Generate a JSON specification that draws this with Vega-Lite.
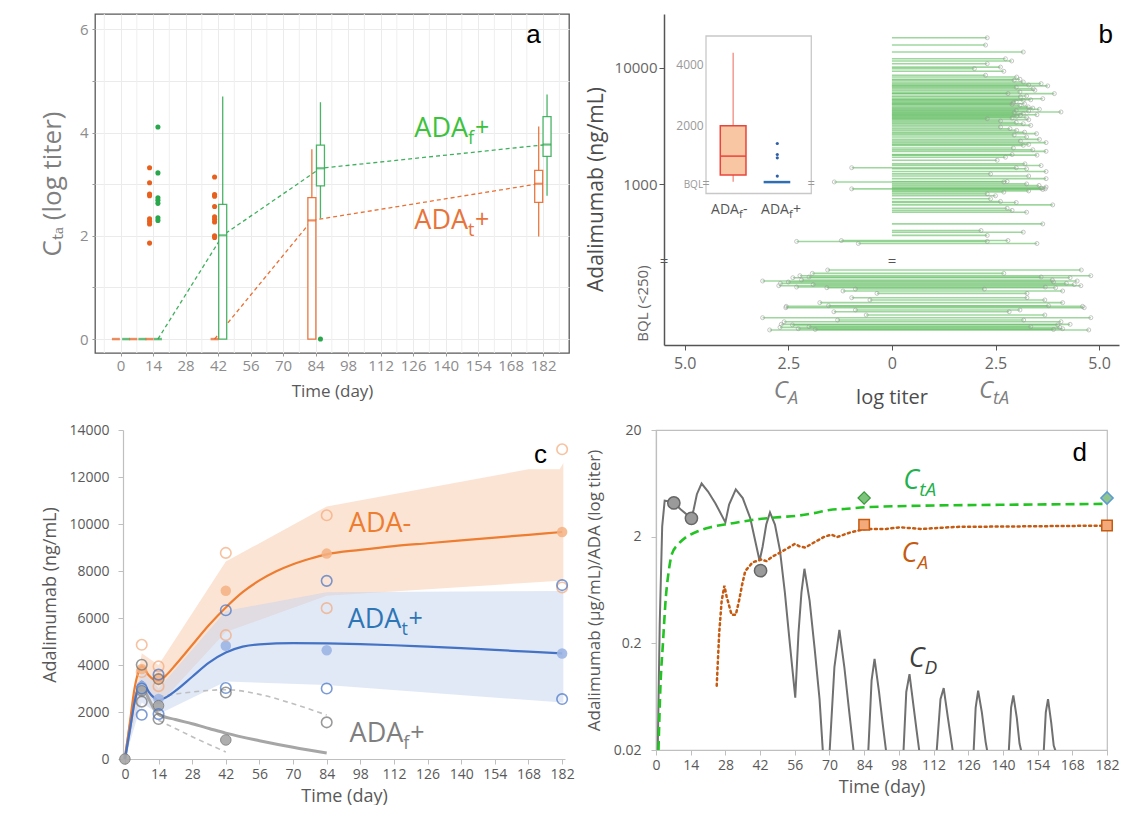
{
"$schema": "https://vega.github.io/schema/vega-lite/v6.json",
"background": "white",
"padding": {"left": 38, "top": 12, "right": 0, "bottom": 0},
"autosize": {"type": "pad"},
"columns": 1,
"spacing": 13,
"resolve": {"scale": {"color": "independent", "fill": "independent", "stroke": "independent"}},
"config": {"font": "Open Sans", "view": {"stroke": null}, "axis": {"titleFontWeight": "normal", "labelFont": "Open Sans", "titleFont": "Open Sans", "grid": false, "labelOverlap": false}, "text": {"font": "Open Sans"}},
"datasets": {
"boxa": [{"da":44,"lo":0,"q1":0,"med":2.01,"q3":2.61,"hi":4.7,"g":"f"},{"da":82.4,"lo":0,"q1":0,"med":2.3,"q3":2.74,"hi":3.68,"g":"t"},{"da":86.1,"lo":2.34,"q1":2.97,"med":3.31,"q3":3.76,"hi":4.59,"g":"f"},{"da":180.1,"lo":1.99,"q1":2.65,"med":3.01,"q3":3.27,"hi":4.12,"g":"t"},{"da":183.7,"lo":2.78,"q1":3.54,"med":3.77,"q3":4.31,"hi":4.74,"g":"f"}],
"ptsa": [{"da":12.5,"ya":3.32,"g":"t"},{"da":12.5,"ya":3.03,"g":"t"},{"da":12.5,"ya":2.81,"g":"t"},{"da":12.5,"ya":2.78,"g":"t"},{"da":12.5,"ya":2.33,"g":"t"},{"da":12.5,"ya":2.28,"g":"t"},{"da":12.5,"ya":2.23,"g":"t"},{"da":12.5,"ya":1.86,"g":"t"},{"da":16.1,"ya":4.11,"g":"f"},{"da":16.1,"ya":3.22,"g":"f"},{"da":16.1,"ya":2.74,"g":"f"},{"da":16.1,"ya":2.69,"g":"f"},{"da":16.1,"ya":2.63,"g":"f"},{"da":16.1,"ya":2.35,"g":"f"},{"da":16.1,"ya":2.3,"g":"f"},{"da":40.5,"ya":3.14,"g":"t"},{"da":40.5,"ya":2.8,"g":"t"},{"da":40.5,"ya":2.77,"g":"t"},{"da":40.5,"ya":2.57,"g":"t"},{"da":40.5,"ya":2.37,"g":"t"},{"da":40.5,"ya":2.32,"g":"t"},{"da":40.5,"ya":2.27,"g":"t"},{"da":40.5,"ya":2.0,"g":"t"},{"da":40.5,"ya":1.97,"g":"t"},{"da":86.1,"ya":0,"g":"f"}],
"topb": [{"cb":18000,"ct":2.3,"ca":0},{"cb":15600,"ct":2.26,"ca":0},{"cb":13600,"ct":3.17,"ca":0},{"cb":11900,"ct":2.74,"ca":0},{"cb":11400,"ct":2.89,"ca":0},{"cb":10800,"ct":2.3,"ca":0},{"cb":10100,"ct":2.62,"ca":0},{"cb":9800,"ct":1.99,"ca":0},{"cb":9300,"ct":2.7,"ca":0},{"cb":8600,"ct":2.26,"ca":0},{"cb":8300,"ct":3.01,"ca":0},{"cb":7950,"ct":3.09,"ca":0},{"cb":7800,"ct":2.95,"ca":0},{"cb":7530,"ct":3.17,"ca":0},{"cb":7290,"ct":3.6,"ca":0},{"cb":7100,"ct":3.3,"ca":0},{"cb":6970,"ct":3.76,"ca":0},{"cb":6800,"ct":3.0,"ca":0},{"cb":6610,"ct":3.41,"ca":0},{"cb":6400,"ct":3.45,"ca":0},{"cb":6190,"ct":3.09,"ca":0},{"cb":6000,"ct":2.8,"ca":0},{"cb":5990,"ct":3.92,"ca":0},{"cb":5720,"ct":3.25,"ca":0},{"cb":5600,"ct":3.1,"ca":0},{"cb":5420,"ct":3.64,"ca":0},{"cb":5300,"ct":3.35,"ca":0},{"cb":5250,"ct":3.17,"ca":0},{"cb":5100,"ct":3.0,"ca":0},{"cb":5010,"ct":2.93,"ca":0},{"cb":4900,"ct":3.2,"ca":0},{"cb":4850,"ct":2.9,"ca":0},{"cb":4760,"ct":3.09,"ca":0},{"cb":4610,"ct":3.29,"ca":0},{"cb":4500,"ct":3.4,"ca":0},{"cb":4400,"ct":3.56,"ca":0},{"cb":4300,"ct":3.0,"ca":0},{"cb":4250,"ct":3.3,"ca":0},{"cb":4170,"ct":4.08,"ca":0},{"cb":4100,"ct":2.95,"ca":0},{"cb":4030,"ct":3.17,"ca":0},{"cb":3950,"ct":3.5,"ca":0},{"cb":3900,"ct":3.1,"ca":0},{"cb":3830,"ct":3.01,"ca":0},{"cb":3750,"ct":3.25,"ca":0},{"cb":3700,"ct":2.9,"ca":0},{"cb":3650,"ct":2.3,"ca":0},{"cb":3580,"ct":3.3,"ca":0},{"cb":3490,"ct":2.62,"ca":0},{"cb":3400,"ct":3.0,"ca":0},{"cb":3310,"ct":3.17,"ca":0},{"cb":3200,"ct":3.35,"ca":0},{"cb":3100,"ct":2.62,"ca":0},{"cb":3000,"ct":2.85,"ca":0},{"cb":2900,"ct":3.01,"ca":0},{"cb":2800,"ct":3.2,"ca":0},{"cb":2720,"ct":3.49,"ca":0},{"cb":2650,"ct":2.95,"ca":0},{"cb":2550,"ct":3.25,"ca":0},{"cb":2430,"ct":3.56,"ca":0},{"cb":2350,"ct":3.1,"ca":0},{"cb":2280,"ct":3.72,"ca":0},{"cb":2200,"ct":3.3,"ca":0},{"cb":2160,"ct":3.17,"ca":0},{"cb":2050,"ct":2.93,"ca":0},{"cb":1980,"ct":3.4,"ca":0},{"cb":1920,"ct":3.72,"ca":0},{"cb":1800,"ct":2.9,"ca":0},{"cb":1780,"ct":3.5,"ca":0},{"cb":1710,"ct":2.74,"ca":0},{"cb":1610,"ct":2.54,"ca":0},{"cb":1500,"ct":3.21,"ca":0},{"cb":1450,"ct":3.6,"ca":0},{"cb":1390,"ct":3.0,"ca":-0.97},{"cb":1360,"ct":3.25,"ca":0},{"cb":1290,"ct":3.72,"ca":0},{"cb":1230,"ct":2.38,"ca":0},{"cb":1180,"ct":3.3,"ca":0},{"cb":1120,"ct":3.72,"ca":0},{"cb":1060,"ct":2.78,"ca":0},{"cb":1050,"ct":2.7,"ca":-1.39},{"cb":1010,"ct":3.25,"ca":0},{"cb":980,"ct":3.55,"ca":0},{"cb":950,"ct":3.72,"ca":0},{"cb":930,"ct":3.6,"ca":0},{"cb":916,"ct":3.7,"ca":-0.97},{"cb":905,"ct":3.64,"ca":0},{"cb":880,"ct":3.3,"ca":0},{"cb":860,"ct":2.7,"ca":0},{"cb":830,"ct":2.3,"ca":0},{"cb":800,"ct":2.5,"ca":0},{"cb":753,"ct":2.38,"ca":0},{"cb":715,"ct":2.62,"ca":0},{"cb":700,"ct":3.0,"ca":0},{"cb":668,"ct":3.88,"ca":0},{"cb":626,"ct":2.78,"ca":0},{"cb":600,"ct":2.9,"ca":0},{"cb":578,"ct":3.25,"ca":0},{"cb":459,"ct":3.64,"ca":0},{"cb":403,"ct":2.15,"ca":0},{"cb":390,"ct":3.17,"ca":0},{"cb":366,"ct":2.3,"ca":0},{"cb":331,"ct":2.8,"ca":-1.22},{"cb":325,"ct":2.3,"ca":-2.3},{"cb":312,"ct":3.5,"ca":-0.81}],
"bqlb": [{"rk":0.107,"ca":-1.55,"ct":4.57},{"rk":0.147,"ca":-1.92,"ct":2.7},{"rk":0.175,"ca":-2.22,"ct":4.8},{"rk":0.19,"ca":-2.0,"ct":3.6},{"rk":0.199,"ca":-2.39,"ct":4.3},{"rk":0.226,"ca":-2.18,"ct":3.87},{"rk":0.238,"ca":-3.12,"ct":4.47},{"rk":0.25,"ca":-2.5,"ct":3.9},{"rk":0.266,"ca":-2.69,"ct":4.21},{"rk":0.28,"ca":-1.9,"ct":4.4},{"rk":0.294,"ca":-2.73,"ct":4.56},{"rk":0.31,"ca":-2.3,"ct":3.7},{"rk":0.318,"ca":-1.57,"ct":3.95},{"rk":0.334,"ca":-0.88,"ct":2.23},{"rk":0.357,"ca":-1.18,"ct":4.12},{"rk":0.385,"ca":-0.36,"ct":3.26},{"rk":0.437,"ca":-0.97,"ct":3.26},{"rk":0.464,"ca":-0.53,"ct":3.69},{"rk":0.496,"ca":-1.74,"ct":4.12},{"rk":0.532,"ca":-1.53,"ct":3.78},{"rk":0.54,"ca":-2.55,"ct":4.6},{"rk":0.556,"ca":-2.56,"ct":4.64},{"rk":0.583,"ca":-0.88,"ct":3.09},{"rk":0.604,"ca":-1.4,"ct":2.83},{"rk":0.643,"ca":-0.62,"ct":3.69},{"rk":0.675,"ca":-3.12,"ct":4.8},{"rk":0.703,"ca":-1.31,"ct":3.18},{"rk":0.723,"ca":-2.6,"ct":4.08},{"rk":0.754,"ca":-2.67,"ct":4.3},{"rk":0.76,"ca":-2.4,"ct":4.0},{"rk":0.782,"ca":-2.0,"ct":3.35},{"rk":0.79,"ca":-2.7,"ct":4.05},{"rk":0.806,"ca":-2.26,"ct":4.12},{"rk":0.815,"ca":-1.85,"ct":3.9},{"rk":0.821,"ca":-2.95,"ct":4.75}]
},
"concat": [
{"hconcat": [
{
"width": 474, "height": 339,
"view": {"stroke": "#595959", "strokeWidth": 1.3},
"layer": [
{"data": {"values": [{"gx":-7},{"gx":7},{"gx":21},{"gx":35},{"gx":49},{"gx":63},{"gx":77},{"gx":91},{"gx":105},{"gx":119},{"gx":133},{"gx":147},{"gx":161},{"gx":175},{"gx":189}]},
 "mark": {"type": "rule", "color": "#efefef", "strokeWidth": 1},
 "encoding": {
  "x": {"field": "gx", "type": "quantitative", "scale": {"domain": [-8.85, 191], "nice": false, "zero": false},
   "axis": {"values": [0,14,28,42,56,70,84,98,112,126,140,154,168,182], "tickCount": 40, "format": "d", "labelOverlap": false, "labelFlush": false, "grid": true, "gridColor": "#ebebeb", "domain": false, "tickColor": "#999999", "tickSize": 3, "labelColor": "#8c8c8c", "labelFontSize": 15, "labelPadding": 2, "title": "Time (day)", "titleFontSize": 17, "titleColor": "#595959", "titlePadding": 10}}}},
{"data": {"values": [{"da":16.1,"ya":0,"g":"f"},{"da":44,"ya":2.01,"g":"f"},{"da":86.1,"ya":3.31,"g":"f"},{"da":183.7,"ya":3.77,"g":"f"},{"da":40.5,"ya":0,"g":"t"},{"da":82.4,"ya":2.3,"g":"t"},{"da":180.1,"ya":3.01,"g":"t"}]},
 "mark": {"type": "line", "strokeDash": [4, 3], "strokeWidth": 1.3, "opacity": 0.9},
 "encoding": {
  "x": {"field": "da", "type": "quantitative"},
  "y": {"field": "ya", "type": "quantitative", "scale": {"domain": [-0.27, 6.3], "nice": false, "zero": false},
   "axis": {"values": [0,1,2,3,4,5,6], "tickCount": 20, "format": "d", "labelExpr": "datum.value % 2 === 0 ? datum.label : ''", "grid": true, "gridColor": "#ebebeb", "domain": false, "tickColor": "#999999", "tickSize": 3, "labelColor": "#8c8c8c", "labelFontSize": 15, "labelPadding": 4, "title": "Cₜₐ (log titer)", "titleFontSize": 26, "titleColor": "#7f7f7f", "titlePadding": 14}},
  "color": {"field": "g", "type": "nominal", "scale": {"domain": ["t","f"], "range": ["#e8601e","#2aa74c"]}, "legend": null}}},
{"data": {"name": "boxa"}, "mark": {"type": "rule", "strokeWidth": 1.3, "opacity": 0.85},
 "encoding": {"x": {"field": "da", "type": "quantitative"}, "y": {"field": "lo", "type": "quantitative"}, "y2": {"field": "hi"}, "color": {"field": "g", "type": "nominal", "legend": null}}},
{"data": {"name": "boxa"}, "mark": {"type": "bar", "size": 8, "fill": "white", "strokeWidth": 1.3, "strokeOpacity": 0.85},
 "encoding": {"x": {"field": "da", "type": "quantitative"}, "y": {"field": "q1", "type": "quantitative"}, "y2": {"field": "q3"}, "stroke": {"field": "g", "type": "nominal", "scale": {"domain": ["t","f"], "range": ["#e8601e","#2aa74c"]}, "legend": null}}},
{"data": {"name": "boxa"}, "mark": {"type": "tick", "orient": "horizontal", "size": 8, "thickness": 2.2},
 "encoding": {"x": {"field": "da", "type": "quantitative"}, "y": {"field": "med", "type": "quantitative"}, "color": {"field": "g", "type": "nominal", "legend": null}}},
{"data": {"values": [{"da":-2,"g":"t"},{"da":2.4,"g":"f"},{"da":5.5,"g":"t"},{"da":9.4,"g":"f"},{"da":12.5,"g":"t"},{"da":16.1,"g":"f"},{"da":40.5,"g":"t"}]},
 "mark": {"type": "tick", "orient": "horizontal", "size": 8, "thickness": 2.5},
 "encoding": {"x": {"field": "da", "type": "quantitative"}, "y": {"datum": 0}, "color": {"field": "g", "type": "nominal", "legend": null}}},
{"data": {"name": "ptsa"}, "mark": {"type": "circle", "size": 26, "opacity": 1},
 "encoding": {"x": {"field": "da", "type": "quantitative"}, "y": {"field": "ya", "type": "quantitative"}, "color": {"field": "g", "type": "nominal", "legend": null}}},
{"data": {"values": [{"da":149.7,"ya":4.07,"g":"f","s":"ADA"},{"da":149.7,"ya":2.29,"g":"t","s":"ADA"}]},
 "mark": {"type": "text", "align": "right", "baseline": "middle", "fontSize": 27},
 "encoding": {"x": {"field": "da", "type": "quantitative"}, "y": {"field": "ya", "type": "quantitative"}, "text": {"field": "s"}, "fill": {"field": "g", "type": "nominal", "scale": {"domain": ["t","f"], "range": ["#e8743b","#3cc23c"]}, "legend": null}}},
{"data": {"values": [{"da":149.7,"ya":4.07,"g":"f","s":"f"},{"da":149.7,"ya":2.29,"g":"t","s":"t"}]},
 "mark": {"type": "text", "align": "left", "baseline": "middle", "fontSize": 18, "dy": 10},
 "encoding": {"x": {"field": "da", "type": "quantitative"}, "y": {"field": "ya", "type": "quantitative"}, "text": {"field": "s"}, "fill": {"field": "g", "type": "nominal", "scale": {"domain": ["t","f"], "range": ["#e8743b","#3cc23c"]}, "legend": null}}},
{"data": {"values": [{"da":149.7,"ya":4.07,"g":"f","s":"+"},{"da":149.7,"ya":2.29,"g":"t","s":"+"}]},
 "mark": {"type": "text", "align": "left", "baseline": "middle", "fontSize": 25, "dx": 7, "dy": -1},
 "encoding": {"x": {"field": "da", "type": "quantitative"}, "y": {"field": "ya", "type": "quantitative"}, "text": {"field": "s"}, "fill": {"field": "g", "type": "nominal", "scale": {"domain": ["t","f"], "range": ["#e8743b","#3cc23c"]}, "legend": null}}},
{"data": {"values": [{"da":177.9,"ya":5.89,"s":"a"}]},
 "mark": {"type": "text", "align": "center", "baseline": "middle", "fontSize": 26, "font": "Liberation Sans", "color": "#000000"},
 "encoding": {"x": {"field": "da", "type": "quantitative"}, "y": {"field": "ya", "type": "quantitative"}, "text": {"field": "s"}}}
]
},
{"vconcat": [
{
"width": 455, "height": 247,
"resolve": {"scale": {"x": "independent", "y": "independent"}, "axis": {"x": "independent", "y": "independent"}},
"layer": [
{"layer": [
 {"data": {"name": "topb"}, "mark": {"type": "rule", "color": "#5dbb5d", "strokeWidth": 1.6, "opacity": 0.6},
  "encoding": {"x": {"field": "ca", "type": "quantitative", "scale": {"domain": [-5.5, 5.48], "nice": false, "zero": false}, "axis": null},
   "x2": {"field": "ct"},
   "y": {"field": "cb", "type": "quantitative", "scale": {"type": "log", "domain": [221, 28770], "nice": false},
    "axis": {"values": [1000, 10000], "format": "d", "title": "Adalimumab (ng/mL)", "titleFontSize": 21, "titleColor": "#4d4d4d", "titlePadding": 8, "titleY": 175, "labelFontSize": 15, "labelColor": "#666666", "domainColor": "#555555", "domainWidth": 1.5, "tickColor": "#555555", "tickSize": 5, "labelPadding": 2}}}},
 {"data": {"name": "topb"}, "mark": {"type": "point", "shape": "circle", "filled": false, "size": 16, "color": "#9a9a9a", "strokeWidth": 0.8},
  "encoding": {"x": {"field": "ct", "type": "quantitative"}, "y": {"field": "cb", "type": "quantitative"}}},
 {"data": {"name": "topb"}, "transform": [{"filter": "datum.ca < 0"}], "mark": {"type": "point", "shape": "circle", "filled": false, "size": 16, "color": "#9a9a9a", "strokeWidth": 0.8},
  "encoding": {"x": {"field": "ca", "type": "quantitative"}, "y": {"field": "cb", "type": "quantitative"}}},
 {"mark": {"type": "rule", "color": "#111111", "strokeWidth": 2, "strokeDash": [5, 1.5]}, "encoding": {"x": {"datum": 0}}},
 {"data": {"values": [{"ca": -5.5, "cb": 222, "s": "="}, {"ca": 0, "cb": 222, "s": "="}]}, "mark": {"type": "text", "align": "center", "baseline": "middle", "fontSize": 15, "color": "#555555"},
  "encoding": {"x": {"field": "ca", "type": "quantitative"}, "y": {"field": "cb", "type": "quantitative"}, "text": {"field": "s"}}},
 {"data": {"values": [{"ca": 5.16, "cb": 18900, "s": "b"}]}, "mark": {"type": "text", "align": "center", "baseline": "middle", "fontSize": 26, "font": "Liberation Sans", "color": "#000000"},
  "encoding": {"x": {"field": "ca", "type": "quantitative"}, "y": {"field": "cb", "type": "quantitative"}, "text": {"field": "s"}}}
]},
{"layer": [
 {"data": {"values": [{"ix":0.923,"ix2":3.237,"iy":-209,"iy2":4937}]}, "mark": {"type": "rect", "fill": "white", "stroke": "#c8c8c8", "strokeWidth": 1.3},
  "encoding": {"x": {"field": "ix", "type": "quantitative", "scale": {"domain": [0, 10], "nice": false, "zero": false}, "axis": null}, "x2": {"field": "ix2"}, "y": {"field": "iy", "type": "quantitative", "scale": {"domain": [-2415, 5655], "nice": false, "zero": false}, "axis": null}, "y2": {"field": "iy2"}}},
 {"data": {"values": [{"ix":1.52,"iy":2000,"iy2":4392},{"ix":1.52,"iy":392,"iy2":173}]}, "mark": {"type": "rule", "color": "#f28b82", "strokeWidth": 1.3},
  "encoding": {"x": {"field": "ix", "type": "quantitative"}, "y": {"field": "iy", "type": "quantitative"}, "y2": {"field": "iy2"}}},
 {"data": {"values": [{"ix":1.237,"ix2":1.802,"iy":392,"iy2":2000}]}, "mark": {"type": "rect", "fill": "#f8c6a3", "stroke": "#e8453c", "strokeWidth": 1.5},
  "encoding": {"x": {"field": "ix", "type": "quantitative"}, "x2": {"field": "ix2"}, "y": {"field": "iy", "type": "quantitative"}, "y2": {"field": "iy2"}}},
 {"data": {"values": [{"ix":1.237,"ix2":1.802,"iy":1012}]}, "mark": {"type": "rule", "color": "#e8453c", "strokeWidth": 1.5},
  "encoding": {"x": {"field": "ix", "type": "quantitative"}, "x2": {"field": "ix2"}, "y": {"field": "iy", "type": "quantitative"}}},
 {"data": {"values": [{"ix":2.19,"ix2":2.775,"iy":163}]}, "mark": {"type": "rule", "color": "#2f6db5", "strokeWidth": 2.5},
  "encoding": {"x": {"field": "ix", "type": "quantitative"}, "x2": {"field": "ix2"}, "y": {"field": "iy", "type": "quantitative"}}},
 {"data": {"values": [{"ix":2.49,"iy":1423},{"ix":2.49,"iy":1064},{"ix":2.49,"iy":956},{"ix":2.49,"iy":359}]}, "mark": {"type": "circle", "size": 10, "color": "#2f5fa8", "opacity": 1},
  "encoding": {"x": {"field": "ix", "type": "quantitative"}, "y": {"field": "iy", "type": "quantitative"}}},
 {"data": {"values": [{"ix":0.873,"iy":4000,"s":"4000"},{"ix":0.873,"iy":2000,"s":"2000"}]}, "mark": {"type": "text", "align": "right", "baseline": "middle", "fontSize": 12, "color": "#999999"},
  "encoding": {"x": {"field": "ix", "type": "quantitative"}, "y": {"field": "iy", "type": "quantitative"}, "text": {"field": "s"}}},
 {"data": {"values": [{"ix":0.86,"iy":65,"s":"BQL"}]}, "mark": {"type": "text", "align": "right", "baseline": "middle", "fontSize": 10, "color": "#999999"},
  "encoding": {"x": {"field": "ix", "type": "quantitative"}, "y": {"field": "iy", "type": "quantitative"}, "text": {"field": "s"}}},
 {"data": {"values": [{"ix":0.923,"iy":100,"s":"="},{"ix":3.237,"iy":100,"s":"="}]}, "mark": {"type": "text", "align": "center", "baseline": "middle", "fontSize": 13, "color": "#999999"},
  "encoding": {"x": {"field": "ix", "type": "quantitative"}, "y": {"field": "iy", "type": "quantitative"}, "text": {"field": "s"}}},
 {"data": {"values": [{"ix":1.648,"iy":-750,"s":"ADA"},{"ix":2.747,"iy":-750,"s":"ADA"}]}, "mark": {"type": "text", "align": "right", "baseline": "middle", "fontSize": 14, "color": "#555555"},
  "encoding": {"x": {"field": "ix", "type": "quantitative"}, "y": {"field": "iy", "type": "quantitative"}, "text": {"field": "s"}}},
 {"data": {"values": [{"ix":1.648,"iy":-750,"s":"f"},{"ix":2.747,"iy":-750,"s":"f"}]}, "mark": {"type": "text", "align": "left", "baseline": "middle", "fontSize": 11, "dy": 5, "color": "#555555"},
  "encoding": {"x": {"field": "ix", "type": "quantitative"}, "y": {"field": "iy", "type": "quantitative"}, "text": {"field": "s"}}},
 {"data": {"values": [{"ix":1.648,"iy":-750,"s":"-"},{"ix":2.747,"iy":-750,"s":"+"}]}, "mark": {"type": "text", "align": "left", "baseline": "middle", "fontSize": 14, "dx": 4, "color": "#555555"},
  "encoding": {"x": {"field": "ix", "type": "quantitative"}, "y": {"field": "iy", "type": "quantitative"}, "text": {"field": "s"}}}
]}
]
},
{
"width": 455, "height": 84,
"layer": [
 {"data": {"name": "bqlb"}, "mark": {"type": "rule", "color": "#5dbb5d", "strokeWidth": 1.6, "opacity": 0.6},
  "encoding": {"x": {"field": "ca", "type": "quantitative", "scale": {"domain": [-5.5, 5.48], "nice": false, "zero": false},
    "axis": {"values": [-5, -2.5, 0, 2.5, 5], "tickCount": 20, "labelExpr": "datum.value === 0 ? '0' : format(abs(datum.value), '.1f')", "title": "log titer", "titleFontSize": 20, "titleColor": "#4d4d4d", "titlePadding": 16, "labelFontSize": 16, "labelColor": "#666666", "domainColor": "#555555", "domainWidth": 1.5, "tickColor": "#555555", "tickSize": 5, "labelPadding": 5, "labelFlush": false}},
   "x2": {"field": "ct"},
   "y": {"field": "rk", "type": "quantitative", "scale": {"domain": [0, 1], "reverse": true, "nice": false, "zero": false},
    "axis": {"title": "BQL (<250)", "labels": false, "ticks": false, "titleFontSize": 15, "titleColor": "#666666", "titlePadding": 14, "domainColor": "#555555", "domainWidth": 1.5}}}},
 {"data": {"name": "bqlb"}, "mark": {"type": "point", "shape": "circle", "filled": false, "size": 16, "color": "#9a9a9a", "strokeWidth": 0.8},
  "encoding": {"x": {"field": "ct", "type": "quantitative"}, "y": {"field": "rk", "type": "quantitative"}}},
 {"data": {"name": "bqlb"}, "mark": {"type": "point", "shape": "circle", "filled": false, "size": 16, "color": "#9a9a9a", "strokeWidth": 0.8},
  "encoding": {"x": {"field": "ca", "type": "quantitative"}, "y": {"field": "rk", "type": "quantitative"}}},
 {"mark": {"type": "rule", "color": "#111111", "strokeWidth": 2, "strokeDash": [5, 1.5]}, "encoding": {"x": {"datum": 0}}},
 {"data": {"values": [{"ca": -2.51, "rk": 1.55}, {"ca": 2.44, "rk": 1.55}]}, "mark": {"type": "text", "text": "C", "align": "right", "baseline": "middle", "fontSize": 24, "fontStyle": "italic", "color": "#808080"},
  "encoding": {"x": {"field": "ca", "type": "quantitative"}, "y": {"field": "rk", "type": "quantitative"}}},
 {"data": {"values": [{"ca": -2.51, "rk": 1.55, "s": "A"}, {"ca": 2.44, "rk": 1.55, "s": "tA"}]}, "mark": {"type": "text", "align": "left", "baseline": "middle", "fontSize": 18, "fontStyle": "italic", "dy": 8, "color": "#808080"},
  "encoding": {"x": {"field": "ca", "type": "quantitative"}, "y": {"field": "rk", "type": "quantitative"}, "text": {"field": "s"}}}
]
}
], "spacing": 0, "bounds": "flush"}
], "spacing": 15, "resolve": {"scale": {"color": "independent", "fill": "independent", "stroke": "independent"}}},
{"hconcat": [
{"width": 1, "height": 1, "data": {"values": [{"v": 0}]}, "mark": {"type": "point", "opacity": 0}, "encoding": {}},
{"hconcat": [
{
"width": 442, "height": 329,
"layer": [
 {"data": {"values": [{"dc":0,"u":0,"l":0},{"dc":7,"u":4500,"l":2900},{"dc":14,"u":4000,"l":2300},{"dc":42,"u":8400,"l":5400},{"dc":84,"u":10750,"l":6950},{"dc":168,"u":12330,"l":7500},{"dc":181,"u":12330,"l":7580},{"dc":182.5,"u":12600,"l":7600}]},
  "mark": {"type": "area", "color": "#fce4d4", "opacity": 1},
  "encoding": {"x": {"field": "dc", "type": "quantitative", "scale": {"domain": [-0.8, 183.2], "nice": false, "zero": false},
    "axis": {"values": [0,14,28,42,56,70,84,98,112,126,140,154,168,182], "tickCount": 40, "format": "d", "title": "Time (day)", "titleFontSize": 18, "titleColor": "#595959", "titlePadding": 6, "labelFontSize": 14, "labelColor": "#595959", "labelPadding": 3, "tickSize": 5, "tickColor": "#bfbfbf", "domainColor": "#bfbfbf", "domainWidth": 1.2, "labelOverlap": false, "labelFlush": false}},
   "y": {"field": "u", "type": "quantitative", "scale": {"domain": [0, 14000], "nice": false},
    "axis": {"values": [0,2000,4000,6000,8000,10000,12000,14000], "tickCount": 20, "format": "d", "title": "Adalimumab (ng/mL)", "titleFontSize": 18, "titleColor": "#595959", "titlePadding": 9, "labelFontSize": 14, "labelColor": "#595959", "labelPadding": 9, "tickSize": 5, "tickColor": "#bfbfbf", "domainColor": "#bfbfbf", "domainWidth": 1.2}},
   "y2": {"field": "l"}}},
 {"data": {"values": [{"dc":0,"u":0,"l":0},{"dc":7,"u":3900,"l":2400},{"dc":14,"u":3000,"l":1900},{"dc":42,"u":6300,"l":3300},{"dc":84,"u":7100,"l":3150},{"dc":182.5,"u":7150,"l":2400}]},
  "mark": {"type": "area", "color": "#c3d4ef", "opacity": 0.5},
  "encoding": {"x": {"field": "dc", "type": "quantitative"}, "y": {"field": "u", "type": "quantitative"}, "y2": {"field": "l"}}},
 {"data": {"values": [{"dc":14,"yc":2650,"k":"u"},{"dc":28,"yc":2850,"k":"u"},{"dc":42,"yc":2950,"k":"u"},{"dc":56,"yc":2750,"k":"u"},{"dc":70,"yc":2350,"k":"u"},{"dc":84,"yc":1870,"k":"u"},{"dc":14,"yc":1650,"k":"l"},{"dc":21,"yc":1300,"k":"l"},{"dc":28,"yc":950,"k":"l"},{"dc":35,"yc":620,"k":"l"},{"dc":42,"yc":300,"k":"l"}]},
  "mark": {"type": "line", "color": "#bfbfbf", "strokeDash": [5, 4], "strokeWidth": 1.6, "interpolate": "monotone"},
  "encoding": {"x": {"field": "dc", "type": "quantitative"}, "y": {"field": "yc", "type": "quantitative"}, "detail": {"field": "k"}}},
 {"data": {"values": [{"dc":0,"yc":0},{"dc":2,"yc":1300},{"dc":4,"yc":2500},{"dc":6,"yc":3050},{"dc":7,"yc":3100},{"dc":8,"yc":2950},{"dc":10,"yc":2550},{"dc":12,"yc":2150},{"dc":14,"yc":1900},{"dc":21,"yc":1680},{"dc":28,"yc":1500},{"dc":35,"yc":1300},{"dc":42,"yc":1100},{"dc":56,"yc":780},{"dc":70,"yc":500},{"dc":84,"yc":255}]},
  "mark": {"type": "line", "color": "#a6a6a6", "strokeWidth": 3, "interpolate": "monotone"},
  "encoding": {"x": {"field": "dc", "type": "quantitative"}, "y": {"field": "yc", "type": "quantitative"}}},
 {"data": {"values": [{"dc":0,"yc":0},{"dc":2,"yc":1500},{"dc":4,"yc":3000},{"dc":6,"yc":3800},{"dc":7,"yc":3950},{"dc":8,"yc":3850},{"dc":10,"yc":3550},{"dc":12,"yc":3380},{"dc":14,"yc":3330},{"dc":17,"yc":3550},{"dc":21,"yc":4000},{"dc":28,"yc":4850},{"dc":35,"yc":5700},{"dc":42,"yc":6450},{"dc":49,"yc":7100},{"dc":56,"yc":7600},{"dc":63,"yc":7990},{"dc":70,"yc":8290},{"dc":77,"yc":8520},{"dc":84,"yc":8710},{"dc":98,"yc":8900},{"dc":112,"yc":9060},{"dc":126,"yc":9180},{"dc":140,"yc":9300},{"dc":154,"yc":9420},{"dc":168,"yc":9540},{"dc":182,"yc":9660}]},
  "mark": {"type": "line", "color": "#ed7d31", "strokeWidth": 2.2, "interpolate": "monotone"},
  "encoding": {"x": {"field": "dc", "type": "quantitative"}, "y": {"field": "yc", "type": "quantitative"}}},
 {"data": {"values": [{"dc":0,"yc":0},{"dc":2,"yc":1200},{"dc":4,"yc":2400},{"dc":6,"yc":3150},{"dc":7,"yc":3290},{"dc":8,"yc":3200},{"dc":10,"yc":2850},{"dc":12,"yc":2620},{"dc":14,"yc":2500},{"dc":17,"yc":2620},{"dc":21,"yc":2900},{"dc":28,"yc":3500},{"dc":35,"yc":4100},{"dc":42,"yc":4530},{"dc":49,"yc":4780},{"dc":56,"yc":4880},{"dc":70,"yc":4930},{"dc":84,"yc":4920},{"dc":98,"yc":4890},{"dc":112,"yc":4840},{"dc":126,"yc":4780},{"dc":140,"yc":4720},{"dc":154,"yc":4640},{"dc":168,"yc":4570},{"dc":182,"yc":4490}]},
  "mark": {"type": "line", "color": "#4472c4", "strokeWidth": 2.2, "interpolate": "monotone"},
  "encoding": {"x": {"field": "dc", "type": "quantitative"}, "y": {"field": "yc", "type": "quantitative"}}},
 {"mark": {"type": "rule", "color": "#bfbfbf", "strokeWidth": 1.2}, "encoding": {"x": {"datum": 183}, "y": {"datum": 0}, "y2": {"datum": 12600}}},
 {"data": {"values": [{"dc":7,"yc":3830},{"dc":14,"yc":3400},{"dc":42,"yc":7160},{"dc":84,"yc":8740},{"dc":182,"yc":9660}]},
  "mark": {"type": "circle", "size": 110, "color": "#f4b183", "opacity": 0.85},
  "encoding": {"x": {"field": "dc", "type": "quantitative"}, "y": {"field": "yc", "type": "quantitative"}}},
 {"data": {"values": [{"dc":7,"yc":3100},{"dc":14,"yc":2550},{"dc":42,"yc":4820},{"dc":84,"yc":4630},{"dc":182,"yc":4490}]},
  "mark": {"type": "circle", "size": 110, "color": "#9db5e3", "opacity": 0.9},
  "encoding": {"x": {"field": "dc", "type": "quantitative"}, "y": {"field": "yc", "type": "quantitative"}}},
 {"data": {"values": [{"dc":0,"yc":0},{"dc":7,"yc":2900},{"dc":14,"yc":2270},{"dc":42,"yc":810}]},
  "mark": {"type": "circle", "size": 110, "color": "#a6a6a6", "opacity": 0.9, "stroke": "#7f7f7f", "strokeWidth": 1},
  "encoding": {"x": {"field": "dc", "type": "quantitative"}, "y": {"field": "yc", "type": "quantitative"}}},
 {"data": {"values": [{"dc":7,"yc":4860},{"dc":7,"yc":3700},{"dc":14,"yc":3940},{"dc":14,"yc":3100},{"dc":42,"yc":8770},{"dc":42,"yc":5270},{"dc":84,"yc":10370},{"dc":84,"yc":6420},{"dc":182,"yc":13180},{"dc":182,"yc":7300}]},
  "mark": {"type": "point", "shape": "circle", "filled": false, "size": 110, "color": "#f4a97a", "strokeWidth": 1.6},
  "encoding": {"x": {"field": "dc", "type": "quantitative"}, "y": {"field": "yc", "type": "quantitative"}}},
 {"data": {"values": [{"dc":7,"yc":1880},{"dc":7,"yc":3000},{"dc":14,"yc":3590},{"dc":14,"yc":1910},{"dc":42,"yc":6330},{"dc":42,"yc":3020},{"dc":84,"yc":7580},{"dc":84,"yc":3000},{"dc":182,"yc":7400},{"dc":182,"yc":2550}]},
  "mark": {"type": "point", "shape": "circle", "filled": false, "size": 110, "color": "#4472c4", "strokeWidth": 1.6},
  "encoding": {"x": {"field": "dc", "type": "quantitative"}, "y": {"field": "yc", "type": "quantitative"}}},
 {"data": {"values": [{"dc":7,"yc":4010},{"dc":7,"yc":2440},{"dc":14,"yc":3400},{"dc":14,"yc":1700},{"dc":42,"yc":2830},{"dc":84,"yc":1560}]},
  "mark": {"type": "point", "shape": "circle", "filled": false, "size": 110, "color": "#6f6f6f", "strokeWidth": 1.6},
  "encoding": {"x": {"field": "dc", "type": "quantitative"}, "y": {"field": "yc", "type": "quantitative"}}},
 {"data": {"values": [{"dc":93.2,"yc":9990,"s":"ADA-"}]}, "mark": {"type": "text", "align": "left", "baseline": "middle", "fontSize": 27, "color": "#ed7d31"},
  "encoding": {"x": {"field": "dc", "type": "quantitative"}, "y": {"field": "yc", "type": "quantitative"}, "text": {"field": "s"}}},
 {"data": {"values": [{"dc":115.1,"yc":5920,"g":"t","s":"ADA"},{"dc":115.9,"yc":1060,"g":"f","s":"ADA"}]}, "mark": {"type": "text", "align": "right", "baseline": "middle", "fontSize": 27},
  "encoding": {"x": {"field": "dc", "type": "quantitative"}, "y": {"field": "yc", "type": "quantitative"}, "text": {"field": "s"}, "fill": {"field": "g", "type": "nominal", "scale": {"domain": ["t","f"], "range": ["#2e75b6","#7f7f7f"]}, "legend": null}}},
 {"data": {"values": [{"dc":115.1,"yc":5920,"g":"t","s":"t"},{"dc":115.9,"yc":1060,"g":"f","s":"f"}]}, "mark": {"type": "text", "align": "left", "baseline": "middle", "fontSize": 18, "dy": 10},
  "encoding": {"x": {"field": "dc", "type": "quantitative"}, "y": {"field": "yc", "type": "quantitative"}, "text": {"field": "s"}, "fill": {"field": "g", "type": "nominal", "scale": {"domain": ["t","f"], "range": ["#2e75b6","#7f7f7f"]}, "legend": null}}},
 {"data": {"values": [{"dc":115.1,"yc":5920,"g":"t","s":"+"},{"dc":115.9,"yc":1060,"g":"f","s":"+"}]}, "mark": {"type": "text", "align": "left", "baseline": "middle", "fontSize": 25, "dx": 7, "dy": -1},
  "encoding": {"x": {"field": "dc", "type": "quantitative"}, "y": {"field": "yc", "type": "quantitative"}, "text": {"field": "s"}, "fill": {"field": "g", "type": "nominal", "scale": {"domain": ["t","f"], "range": ["#2e75b6","#7f7f7f"]}, "legend": null}}},
 {"data": {"values": [{"dc":173,"yc":12940,"s":"c"}]}, "mark": {"type": "text", "align": "center", "baseline": "middle", "fontSize": 26, "font": "Liberation Sans", "color": "#000000"},
  "encoding": {"x": {"field": "dc", "type": "quantitative"}, "y": {"field": "yc", "type": "quantitative"}, "text": {"field": "s"}}}
]
},
{
"width": 451, "height": 320,
"view": {"stroke": "#bfbfbf", "strokeWidth": 1.2},
"layer": [
 {"data": {"values": [{"dd":0.7,"yd":0.02},{"dd":1.5,"yd":0.3},{"dd":2.5,"yd":2.5},{"dd":3.5,"yd":4.35},{"dd":5,"yd":4.3},{"dd":7.2,"yd":4.14},{"dd":10,"yd":3.6},{"dd":14.3,"yd":2.97},{"dd":15.2,"yd":3.6},{"dd":16.5,"yd":5},{"dd":18.4,"yd":6.3},{"dd":21,"yd":5.3},{"dd":24,"yd":4.1},{"dd":28,"yd":2.72},{"dd":29.5,"yd":4},{"dd":32.2,"yd":5.56},{"dd":35,"yd":4.6},{"dd":38,"yd":3.0},{"dd":41.8,"yd":1.19},{"dd":43,"yd":1.6},{"dd":44.5,"yd":2.6},{"dd":46,"yd":3.38},{"dd":48,"yd":2.6},{"dd":50,"yd":1.5},{"dd":52,"yd":0.6},{"dd":54,"yd":0.2},{"dd":56.2,"yd":0.062},{"dd":57.5,"yd":0.25},{"dd":58.7,"yd":0.6},{"dd":59.9,"yd":1.0},{"dd":62,"yd":0.5},{"dd":64,"yd":0.18},{"dd":66,"yd":0.06},{"dd":67.3,"yd":0.02},{"dd":68,"yd":0.008},{"dd":69.5,"yd":0.008},{"dd":70.1,"yd":0.02},{"dd":72,"yd":0.12},{"dd":74,"yd":0.267},{"dd":76,"yd":0.12},{"dd":78,"yd":0.045},{"dd":79.7,"yd":0.02},{"dd":80.5,"yd":0.008},{"dd":85,"yd":0.008},{"dd":85.7,"yd":0.02},{"dd":87,"yd":0.09},{"dd":88.2,"yd":0.143},{"dd":90,"yd":0.07},{"dd":91.5,"yd":0.035},{"dd":92.8,"yd":0.02},{"dd":93.5,"yd":0.008},{"dd":99.2,"yd":0.008},{"dd":99.9,"yd":0.02},{"dd":101,"yd":0.07},{"dd":102.3,"yd":0.103},{"dd":104,"yd":0.05},{"dd":105.2,"yd":0.03},{"dd":106.2,"yd":0.02},{"dd":107,"yd":0.008},{"dd":112.5,"yd":0.008},{"dd":113.3,"yd":0.02},{"dd":114.8,"yd":0.06},{"dd":116.1,"yd":0.076},{"dd":117.8,"yd":0.04},{"dd":119,"yd":0.026},{"dd":119.7,"yd":0.02},{"dd":120.5,"yd":0.008},{"dd":127.5,"yd":0.008},{"dd":128.2,"yd":0.02},{"dd":129,"yd":0.05},{"dd":130,"yd":0.072},{"dd":131.5,"yd":0.045},{"dd":133,"yd":0.024},{"dd":133.6,"yd":0.02},{"dd":134.3,"yd":0.008},{"dd":141.7,"yd":0.008},{"dd":142.4,"yd":0.02},{"dd":143.3,"yd":0.05},{"dd":144.2,"yd":0.065},{"dd":145.6,"yd":0.04},{"dd":146.7,"yd":0.023},{"dd":147.3,"yd":0.02},{"dd":148,"yd":0.008},{"dd":155.8,"yd":0.008},{"dd":156.5,"yd":0.02},{"dd":157.3,"yd":0.045},{"dd":158.2,"yd":0.06},{"dd":159.5,"yd":0.036},{"dd":160.5,"yd":0.022},{"dd":161.1,"yd":0.02},{"dd":161.8,"yd":0.008},{"dd":182,"yd":0.008}]},
  "mark": {"type": "line", "color": "#707070", "strokeWidth": 2, "clip": true},
  "encoding": {"x": {"field": "dd", "type": "quantitative", "scale": {"domain": [0, 182], "nice": false, "zero": false},
    "axis": {"values": [0,14,28,42,56,70,84,98,112,126,140,154,168,182], "tickCount": 40, "format": "d", "title": "Time (day)", "titleFontSize": 18, "titleColor": "#595959", "titlePadding": 6, "labelFontSize": 14, "labelColor": "#595959", "labelPadding": 3, "tickSize": 5, "tickColor": "#bfbfbf", "domainColor": "#bfbfbf", "domainWidth": 1.2, "labelOverlap": false, "labelFlush": false}},
   "y": {"field": "yd", "type": "quantitative", "scale": {"type": "log", "domain": [0.02, 20], "nice": false},
    "axis": {"values": [0.02, 0.2, 2, 20], "tickCount": 20, "format": "~g", "title": "Adalimumab (μg/mL)/ADA (log titer)", "titleFontSize": 17, "titleColor": "#595959", "titlePadding": 10, "labelFontSize": 14, "labelColor": "#595959", "labelPadding": 10, "tickSize": 5, "tickColor": "#bfbfbf", "domainColor": "#bfbfbf", "domainWidth": 1.2}}}},
 {"data": {"values": [{"dd":1,"yd":0.02},{"dd":1.8,"yd":0.08},{"dd":2.8,"yd":0.2},{"dd":4,"yd":0.55},{"dd":5,"yd":0.9},{"dd":6.4,"yd":1.37},{"dd":9,"yd":1.7},{"dd":12,"yd":1.97},{"dd":16,"yd":2.2},{"dd":22,"yd":2.45},{"dd":30,"yd":2.65},{"dd":41.8,"yd":2.93},{"dd":50,"yd":3.05},{"dd":57.4,"yd":3.15},{"dd":63,"yd":3.3},{"dd":70,"yd":3.56},{"dd":77,"yd":3.65},{"dd":84.3,"yd":3.77},{"dd":107,"yd":3.9},{"dd":140,"yd":3.98},{"dd":182,"yd":4.06}]},
  "mark": {"type": "line", "color": "#22c322", "strokeWidth": 2.6, "strokeDash": [9, 5], "clip": true, "interpolate": "monotone"},
  "encoding": {"x": {"field": "dd", "type": "quantitative"}, "y": {"field": "yd", "type": "quantitative"}}},
 {"data": {"values": [{"dd":24.5,"yd":0.08},{"dd":25.5,"yd":0.25},{"dd":26.5,"yd":0.5},{"dd":27.6,"yd":0.695},{"dd":28.5,"yd":0.55},{"dd":30.5,"yd":0.37},{"dd":32.2,"yd":0.37},{"dd":33.5,"yd":0.5},{"dd":34.7,"yd":0.7},{"dd":36,"yd":0.95},{"dd":39,"yd":1.15},{"dd":42.5,"yd":1.22},{"dd":44.6,"yd":1.18},{"dd":47,"yd":1.3},{"dd":50.3,"yd":1.43},{"dd":53,"yd":1.55},{"dd":56,"yd":1.71},{"dd":58,"yd":1.62},{"dd":60.2,"yd":1.58},{"dd":64.4,"yd":1.8},{"dd":68,"yd":2.0},{"dd":70.8,"yd":2.09},{"dd":73,"yd":1.98},{"dd":78.6,"yd":2.2},{"dd":84.3,"yd":2.36},{"dd":92.8,"yd":2.36},{"dd":98.4,"yd":2.45},{"dd":107,"yd":2.36},{"dd":121,"yd":2.47},{"dd":149.4,"yd":2.5},{"dd":182,"yd":2.54}]},
  "mark": {"type": "line", "color": "#c55a11", "strokeWidth": 2.5, "strokeDash": [2, 3.5], "strokeCap": "round", "clip": true},
  "encoding": {"x": {"field": "dd", "type": "quantitative"}, "y": {"field": "yd", "type": "quantitative"}}},
 {"data": {"values": [{"dd":7.2,"yd":4.14},{"dd":14.3,"yd":2.97},{"dd":42.2,"yd":0.96}]},
  "mark": {"type": "point", "shape": "circle", "filled": true, "size": 150, "fill": "#9a9a9a", "stroke": "#666666", "strokeWidth": 1.5, "opacity": 1},
  "encoding": {"x": {"field": "dd", "type": "quantitative"}, "y": {"field": "yd", "type": "quantitative"}}},
 {"data": {"values": [{"dd":84,"yd":4.61}]},
  "mark": {"type": "point", "shape": "diamond", "filled": true, "size": 150, "fill": "#7cc47c", "stroke": "#3a9a3a", "strokeWidth": 1.2, "opacity": 1},
  "encoding": {"x": {"field": "dd", "type": "quantitative"}, "y": {"field": "yd", "type": "quantitative"}}},
 {"data": {"values": [{"dd":182,"yd":4.61}]},
  "mark": {"type": "point", "shape": "diamond", "filled": true, "size": 150, "fill": "#8fc48f", "stroke": "#5b9bd5", "strokeWidth": 1.5, "opacity": 1},
  "encoding": {"x": {"field": "dd", "type": "quantitative"}, "y": {"field": "yd", "type": "quantitative"}}},
 {"data": {"values": [{"dd":84,"yd":2.59},{"dd":182,"yd":2.54}]},
  "mark": {"type": "point", "shape": "square", "filled": true, "size": 110, "fill": "#f4a97a", "stroke": "#c55a11", "strokeWidth": 1.5, "opacity": 1},
  "encoding": {"x": {"field": "dd", "type": "quantitative"}, "y": {"field": "yd", "type": "quantitative"}}},
 {"data": {"values": [{"dd":106.2,"yd":6.7,"k":"tA"},{"dd":105.5,"yd":1.375,"k":"A"},{"dd":108.4,"yd":0.1426,"k":"D"}]},
  "mark": {"type": "text", "text": "C", "align": "right", "baseline": "middle", "fontSize": 27, "fontStyle": "italic"},
  "encoding": {"x": {"field": "dd", "type": "quantitative"}, "y": {"field": "yd", "type": "quantitative"}, "fill": {"field": "k", "type": "nominal", "scale": {"domain": ["tA","A","D"], "range": ["#22b14c","#c55a11","#404040"]}, "legend": null}}},
 {"data": {"values": [{"dd":106.2,"yd":6.7,"k":"tA"},{"dd":105.5,"yd":1.375,"k":"A"},{"dd":108.4,"yd":0.1426,"k":"D"}]},
  "mark": {"type": "text", "align": "left", "baseline": "middle", "fontSize": 19, "fontStyle": "italic", "dy": 9},
  "encoding": {"x": {"field": "dd", "type": "quantitative"}, "y": {"field": "yd", "type": "quantitative"}, "text": {"field": "k"}, "fill": {"field": "k", "type": "nominal", "scale": {"domain": ["tA","A","D"], "range": ["#22b14c","#c55a11","#404040"]}, "legend": null}}},
 {"data": {"values": [{"dd":171,"yd":12.3,"s":"d"}]}, "mark": {"type": "text", "align": "center", "baseline": "middle", "fontSize": 26, "font": "Liberation Sans", "color": "#000000"},
  "encoding": {"x": {"field": "dd", "type": "quantitative"}, "y": {"field": "yd", "type": "quantitative"}, "text": {"field": "s"}}}
]
}
], "spacing": 9, "resolve": {"scale": {"color": "independent", "fill": "independent", "stroke": "independent"}}}
], "spacing": -58, "resolve": {"scale": {"color": "independent", "fill": "independent", "stroke": "independent"}}}
]
}
